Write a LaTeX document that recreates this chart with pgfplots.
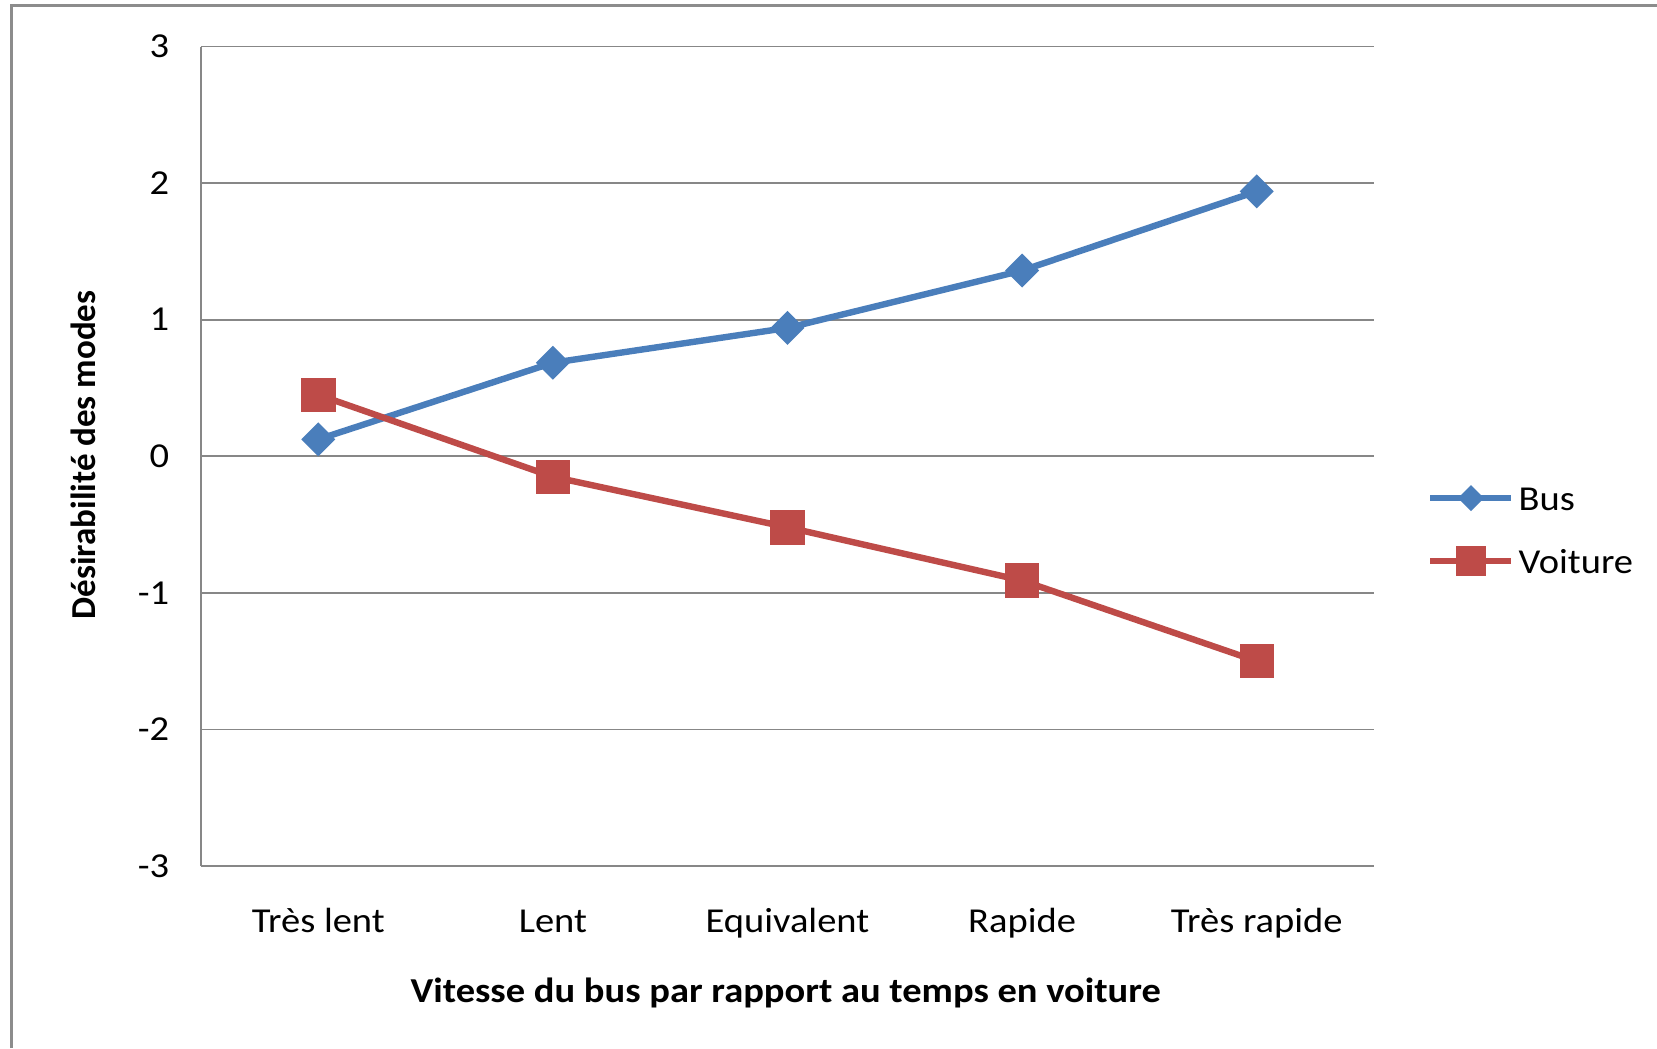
\documentclass[border=0pt]{standalone}
\usepackage{pgfplots}
\pgfplotsset{compat=1.18}
\usepackage{fontspec}
\setmainfont{Carlito}
\newfontfamily\hfont{Carlito}[FakeStretch=1.10]
\definecolor{gridgray}{HTML}{878787}
\definecolor{framegray}{HTML}{8C8C8C}
\definecolor{busblue}{HTML}{4A7EBB}
\definecolor{carred}{HTML}{BE4B48}
\begin{document}
\begin{tikzpicture}
\useasboundingbox (0pt,0pt) rectangle (828.5pt,524pt);
\fill[white] (0pt,0pt) rectangle (828.5pt,524pt);
\draw[framegray, line width=1.5pt] (5.5pt,0pt) -- (5.5pt,521.2pt) -- (828.5pt,521.2pt);
\begin{axis}[
  scale only axis,
  width=586.5pt, height=409.7pt,
  at={(100.5pt,91pt)}, anchor=south west,
  xmin=-0.5, xmax=4.5, ymin=-3, ymax=3,
  xtick={0,1,2,3,4},
  xticklabels={Très lent, Lent, Equivalent, Rapide, Très rapide},
  ytick={-3,-2,-1,0,1,2,3},
  yticklabels={-3,-2,-1,0,1,2,3},
  major tick length=0pt,
  axis lines=left,
  axis line style={-, draw=gridgray, line width=0.9pt},
  ymajorgrids,
  major grid style={draw=gridgray, line width=0.9pt},
  tick label style={font=\hfont\fontsize{17.5}{20}\selectfont},
  xticklabel style={anchor=center, text height=12.6pt, text depth=3.5pt, yshift=-28.5pt},
  yticklabel style={anchor=east, xshift=-12.4pt},
  xlabel={\textbf{Vitesse du bus par rapport au temps en voiture}},
  ylabel={\textbf{Désirabilité des modes}},
  xlabel style={font=\hfont\fontsize{17.5}{20}\selectfont, at={(axis description cs:0.4985,-0.155)}, anchor=center},
  ylabel style={font=\fontsize{17.5}{20}\selectfont, at={(axis description cs:-0.1006,0.5016)}, anchor=center},
  legend style={draw=none, fill=none, at={(axis description cs:1.045,0.4105)}, anchor=west,
    inner sep=0pt, row sep=15.5pt, font=\hfont\fontsize{17.5}{20}\selectfont,
    nodes={text height=12pt, text depth=0pt, inner sep=2pt}},
  legend cell align=left,
  legend image code/.code={
    \draw[#1, mark=none] (0pt,0pt) -- (40.5pt,0pt);
    \draw[#1] plot coordinates {(20.25pt,0pt)};
  },
  clip=false,
]
\addplot[busblue, line width=3.2pt, mark=square*, mark size=4.4pt,
  mark options={rotate=45, solid},
  legend image post style={mark size=3pt}]
  coordinates {(0,0.124) (1,0.685) (2,0.94) (3,1.36) (4,1.94)};
\addlegendentry{Bus}
\addplot[carred, line width=3.2pt, mark=square*, mark size=7pt,
  mark options={solid},
  legend image post style={mark size=5.75pt}]
  coordinates {(0,0.45) (1,-0.15) (2,-0.52) (3,-0.91) (4,-1.50)};
\addlegendentry{Voiture}
\end{axis}
\end{tikzpicture}
\end{document}
